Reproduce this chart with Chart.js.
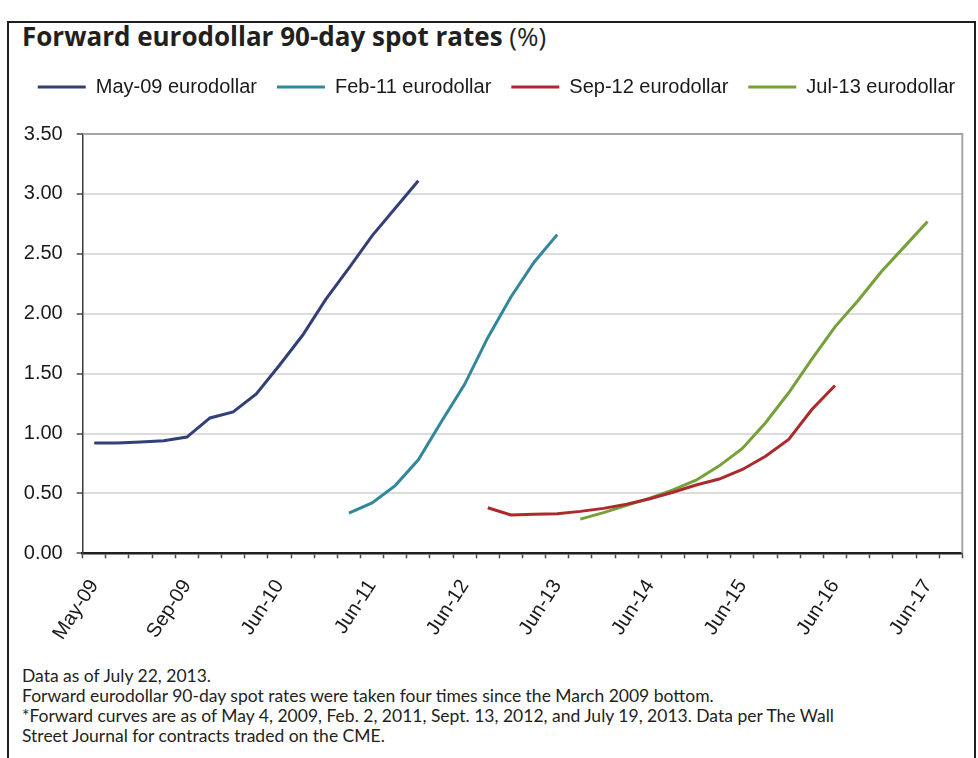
<!DOCTYPE html>
<html>
<head>
<meta charset="utf-8">
<script src="https://cdn.jsdelivr.net/npm/chart.js@4/dist/chart.umd.min.js"></script>
<style>
  html, body { margin: 0; padding: 0; background: #ffffff; }
  body { width: 978px; height: 758px; position: relative; overflow: hidden; }
  #frame { position: absolute; left: 7px; top: 21px; width: 969px; height: 760px;
           border: 2px solid #1f1f1f; border-bottom: none; box-sizing: border-box; }
  #title { position: absolute; left: 22px; top: 23px; font-family: "Open Sans", Lato, sans-serif;
           font-weight: 700; font-size: 26px; line-height: 26px; color: #231f20; white-space: nowrap; }
  #title span { font-weight: 400; }
  #notes { position: absolute; left: 22px; top: 666px; font-family: Lato, "Open Sans", sans-serif;
           font-size: 17.5px; line-height: 20px; color: #231f20; white-space: nowrap; }
  #wrap { position: absolute; left: 0; top: 0; width: 978px; height: 654px; overflow: hidden; }
</style>
</head>
<body>
<div id="frame"></div>
<div id="title">Forward eurodollar 90-day spot rates <span>(%)</span></div>
<div id="wrap"><canvas id="chart" width="993" height="654"></canvas></div>
<div id="notes">Data as of July 22, 2013.<br>Forward eurodollar 90-day spot rates were taken four times since the March 2009 bottom.<br>*Forward curves are as of May 4, 2009, Feb. 2, 2011, Sept. 13, 2012, and July 19, 2013. Data per The Wall<br>Street Journal for contracts traded on the CME.</div>
<script>
// ---- data ----
const categories = ['May-09','Jun-09','Jul-09','Aug-09','Sep-09','Oct-09','Dec-09','Mar-10','Jun-10','Sep-10',
  'Dec-10','Mar-11','Jun-11','Sep-11','Dec-11','Mar-12','Jun-12','Sep-12','Dec-12','Mar-13',
  'Jun-13','Sep-13','Dec-13','Mar-14','Jun-14','Sep-14','Dec-14','Mar-15','Jun-15','Sep-15',
  'Dec-15','Mar-16','Jun-16','Sep-16','Dec-16','Mar-17','Jun-17','Sep-17'];
const tickLabels = ['May-09','Sep-09','Jun-10','Jun-11','Jun-12','Jun-13','Jun-14','Jun-15','Jun-16','Jun-17'];
const yTicks = [0, 0.5, 1, 1.5, 2, 2.5, 3, 3.5];

const seriesNames = ['May-09 eurodollar','Feb-11 eurodollar','Sep-12 eurodollar','Jul-13 eurodollar'];
const may09Start = 'May-09';
const may09Rates = [0.92, 0.92, 0.93, 0.94, 0.97, 1.13, 1.18, 1.33, 1.57, 1.82, 2.12, 2.38, 2.65, 2.88, 3.11];
const feb11Start = 'Mar-11';
const feb11Rates = [0.335, 0.42, 0.565, 0.78, 1.10, 1.41, 1.80, 2.14, 2.43, 2.66];
const sep12Start = 'Sep-12';
const sep12Rates = [0.38, 0.32, 0.325, 0.33, 0.35, 0.375, 0.41, 0.455, 0.51, 0.57, 0.62, 0.70, 0.81, 0.95, 1.20, 1.40];
const jul13Start = 'Sep-13';
const jul13Rates = [0.285, 0.34, 0.40, 0.46, 0.53, 0.61, 0.73, 0.875, 1.09, 1.34, 1.62, 1.89, 2.11, 2.35, 2.56, 2.77];

const seriesColors = ['#323f78', '#32879a', '#aa2a2d', '#76a03a'];

function toPoints(start, values) {
  const s = categories.indexOf(start);
  return values.map((v, k) => ({ x: categories[s + k], y: v }));
}
const seriesData = [
  toPoints(may09Start, may09Rates),
  toPoints(feb11Start, feb11Rates),
  toPoints(sep12Start, sep12Rates),
  toPoints(jul13Start, jul13Rates)
];

const plotFrame = {
  id: 'plotFrame',
  beforeDatasetsDraw(chart) {
    const { ctx, chartArea: a } = chart;
    ctx.save();
    ctx.strokeStyle = '#a6a6a6';
    ctx.lineWidth = 2;
    ctx.beginPath();
    ctx.moveTo(a.left, a.top);
    ctx.lineTo(a.right, a.top);
    ctx.lineTo(a.right, a.bottom);
    ctx.stroke();
    ctx.restore();
  }
};

const axisFont = { family: "'Liberation Sans', Arial, sans-serif", size: 20 };

new Chart(document.getElementById('chart'), {
  type: 'line',
  data: {
    labels: categories,
    datasets: seriesNames.map((name, i) => ({
      label: name,
      data: seriesData[i],
      borderColor: seriesColors[i],
      backgroundColor: seriesColors[i],
      borderWidth: 3,
      pointRadius: 0,
      tension: 0,
      spanGaps: false
    }))
  },
  options: {
    responsive: false,
    animation: false,
    layout: { padding: { left: 0, right: 0, top: 57, bottom: 0 } },
    plugins: {
      title: { display: false },
      tooltip: { enabled: false },
      legend: {
        display: true,
        position: 'top',
        labels: {
          font: axisFont,
          color: '#1a1a1a',
          boxWidth: 48,
          boxHeight: 3,
          padding: 20,
          generateLabels(chart) {
            return Chart.defaults.plugins.legend.labels.generateLabels(chart)
              .map(l => Object.assign(l, { lineWidth: 0 }));
          }
        }
      }
    },
    scales: {
      x: {
        type: 'category',
        position: 'bottom',
        offset: true,
        grid: { display: true, offset: true, drawOnChartArea: false, drawTicks: true,
                tickLength: 5, tickColor: '#4a4a4a', tickWidth: 1.5 },
        border: { display: true, color: '#1f1f1f', width: 2.5 },
        ticks: {
          autoSkip: false,
          minRotation: 57,
          maxRotation: 57,
          padding: 17,
          font: axisFont,
          color: '#1a1a1a',
          callback(value, index) {
            const lab = categories[index];
            return tickLabels.includes(lab) ? lab : '';
          }
        },
        afterFit(scale) { scale.height = 100.7; }
      },
      xTop: {
        type: 'category',
        position: 'top',
        labels: categories,
        display: true,
        grid: { display: false },
        border: { display: false },
        ticks: { display: false },
        afterFit(scale) { scale.height = 27; }
      },
      y: {
        type: 'linear',
        position: 'left',
        min: 0,
        max: 3.5,
        afterBuildTicks(scale) { scale.ticks = yTicks.map(v => ({ value: v })); },
        grid: { display: true, color: '#dcdcdc', lineWidth: 2, drawTicks: true,
                tickLength: 6, tickColor: '#4a4a4a', tickWidth: 1.5 },
        border: { display: true, color: '#3a3a3a', width: 1.5 },
        ticks: {
          padding: 14,
          font: axisFont,
          color: '#1a1a1a',
          callback(value) { return Number(value).toFixed(2); }
        },
        afterFit(scale) { scale.width = 82.7; }
      },
      yRight: {
        type: 'linear',
        position: 'right',
        display: true,
        grid: { display: false },
        border: { display: false },
        ticks: { display: false },
        afterFit(scale) { scale.width = 30.7; }
      }
    }
  },
  plugins: [plotFrame]
});
</script>
</body>
</html>
